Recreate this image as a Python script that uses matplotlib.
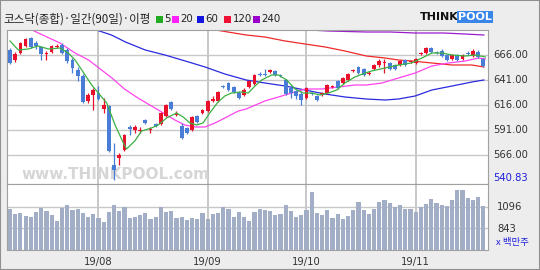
import matplotlib
matplotlib.use('Agg')
import matplotlib.pyplot as plt
from matplotlib.patches import Rectangle

plt.rcParams['font.family'] = ['Noto Sans CJK KR', 'DejaVu Sans']

# daily candles (index 0..91 = trading days Jul 8 .. Nov 20, 2019)
opens = [671, 661, 668, 675, 683, 678, 674, 667, 669, 674, 676, 671, 661, 651, 645, 620,
         626, 628, 612, 615, 556, 563, 571, 594, 591, 590, 601, 591, 597, 597, 605, 619,
         606, 595, 593, 591, 605, 608, 610, 620, 620, 635, 638, 634, 628, 626, 634, 637,
         647, 647, 649, 650, 646, 641, 633, 630, 627, 623, 628, 625, 626, 628, 634, 640,
         638, 641, 650, 654, 652, 647, 652, 656, 658, 658, 656, 656, 661, 659, 658, 667,
         668, 673, 669, 670, 666, 662, 666, 662, 668, 665, 669, 662]
closes = [658, 667, 678, 682, 674, 675, 667, 668, 675, 675, 668, 660, 653, 645, 619, 626,
          631, 622, 616, 570, 551, 566, 586, 592, 594, 591, 598, 592, 595, 608, 616, 612,
          608, 583, 588, 604, 599, 611, 620, 622, 629, 634, 631, 629, 623, 631, 640, 646,
          646, 646, 651, 646, 645, 627, 628, 625, 621, 633, 627, 621, 628, 636, 635, 633,
          643, 647, 651, 648, 646, 648, 656, 660, 659, 652, 652, 660, 656, 660, 662, 668,
          673, 669, 668, 665, 661, 666, 661, 666, 667, 670, 664, 655]
highs = [673, 669, 679, 683, 684, 680, 675, 670, 676, 677, 678, 673, 663, 654, 647, 628,
         633, 635, 623, 616, 578, 568, 587, 596, 596, 594, 602, 594, 598, 609, 617, 620,
         610, 598, 594, 605, 606, 612, 621, 625, 630, 636, 639, 635, 630, 633, 641, 647,
         649, 652, 652, 651, 647, 642, 636, 631, 630, 634, 629, 626, 629, 637, 636, 641,
         644, 648, 652, 655, 653, 650, 657, 662, 662, 659, 657, 661, 662, 661, 663, 669,
         674, 674, 670, 672, 667, 667, 667, 667, 670, 672, 671, 663]
lows = [657, 659, 667, 674, 673, 672, 661, 661, 668, 673, 667, 658, 648, 640, 618, 618,
        611, 621, 608, 569, 541, 556, 570, 586, 588, 588, 597, 588, 594, 596, 604, 611,
        605, 582, 587, 590, 598, 607, 609, 619, 619, 633, 630, 628, 622, 625, 633, 636,
        645, 645, 648, 645, 644, 626, 623, 622, 616, 622, 626, 620, 625, 627, 633, 632,
        637, 640, 649, 647, 645, 646, 651, 654, 648, 651, 651, 655, 655, 658, 657, 666,
        667, 668, 667, 664, 660, 661, 660, 661, 666, 664, 663, 654]

# volume (x 백만주)
volumes = [1069, 1006, 1018, 987, 975, 1038, 1076, 1045, 998, 932, 1076, 1119, 1057, 1065,
           1018, 975, 1006, 963, 913, 1038, 1112, 1045, 1096, 963, 975, 998, 1018, 952, 975,
           1092, 1034, 1045, 963, 975, 940, 963, 956, 1018, 952, 1006, 1018, 1092, 1069, 975,
           1038, 975, 924, 1037, 1065, 1057, 1045, 998, 1006, 1119, 1045, 979, 998, 1057,
           1272, 1018, 998, 1057, 967, 1010, 956, 987, 1057, 1151, 1057, 1010, 1069, 1147,
           1170, 1139, 1096, 1112, 1069, 1069, 1030, 1096, 1127, 1182, 1135, 1112, 1100,
           1170, 1291, 1291, 1194, 1170, 1213, 1104]

# moving averages (day index, value)
ma5_x = [0, 1.6, 3.5, 5.4, 7.4, 9.6, 11.2, 12.5, 13.8, 15.7, 17.3, 18.6, 20.2, 21.8, 22.4,
         24, 25.3, 27.2, 28.5, 30.1, 32, 33.3, 34.6, 35.9, 37.1, 38.4, 40, 41.3, 42.6, 44.5,
         45.8, 47.1, 48.4, 50.3, 51.6, 53.2, 54.8, 56.4, 58, 59.6, 61.2, 62.8, 64.4, 66.3,
         68.3, 69.5, 72.1, 74.7, 77.2, 79.2, 81.1, 83.1, 85, 87.5, 89.5, 91.4]
ma5_y = [680, 671, 672, 675, 672, 673, 668, 661, 651, 636, 626, 618, 596, 578, 572,
         580, 590, 593, 596, 603, 608, 604, 598, 596, 598, 608, 619, 625, 628, 629,
         628, 635, 641, 646, 646, 641, 632, 628, 628, 626, 628, 631, 638, 644,
         648, 650, 653, 656, 658, 663, 668, 668, 666, 665, 666, 664]
ma20_x = [3.8, 6.7, 9.6, 12.5, 15.1, 17.6, 19.6, 22.0, 24.6, 27.2, 29.8, 31.7, 33.6, 35.6,
          37.5, 39.4, 41.3, 43.9, 45.4, 49.0, 52.9, 56.7, 59.9, 63.1, 66.3, 68.5, 71.5,
          74.7, 77.9, 81.1, 84.3, 87.5, 90.1, 91.4]
ma20_y = [692, 685, 678, 668, 661, 651, 643, 632, 623, 615, 607, 601, 596, 594,
          594, 598, 603, 610, 612, 620, 626, 632, 632, 634, 636, 636, 638,
          643, 648, 655, 658, 660, 663, 662]
ma60_x = [16.6, 19.5, 22.2, 26, 29.8, 33.7, 37.5, 41.3, 45.4, 49, 52.9, 56.7, 60.6, 64.4,
          68.5, 72.1, 74.7, 77.9, 81.1, 85, 88.8, 91.1]
ma60_y = [691, 686, 679, 671, 666, 660, 654, 647, 641, 638, 635, 631, 627, 624,
          622, 621, 622, 625, 631, 635, 639, 641]
ma120_x = [38.4, 45.4, 49, 52.9, 56.7, 60.6, 64.4, 68.5, 72.1, 74.7, 77.2, 81.1, 85, 88.8, 91.1]
ma120_y = [692, 686, 684, 680, 677, 674, 670, 665, 663, 661, 660, 658, 656, 656, 654]
ma240_x = [53.8, 61.2, 68.5, 73.1, 77.9, 83.4, 87.5, 91.1]
ma240_y = [692, 690, 689, 689, 688, 688, 687, 686]

price_ticks = [666, 641, 616, 591, 566]
price_min_label = '540.83'
vol_ticks = [1096, 843]
month_idx = [17, 38, 57, 78]
month_labels = ['19/08', '19/09', '19/10', '19/11']

W, H = 540, 270
RED = '#E8102A'
BLUE = '#4A7ED6'
GRID = '#C8C8C8'


def fx(px):
    return px / W


def fy(py):
    return 1 - py / H


fig = plt.figure(figsize=(W / 100, H / 100), dpi=100)
fig.patch.set_facecolor('#EDEDED')

# --- price panel
ax = fig.add_axes([fx(7), fy(184), fx(481), (184 - 30) / H])
ax.set_facecolor('white')
ax.set_xlim(-0.58, 91.9)
ax.set_ylim(537, 691)
for p in price_ticks:
    ax.axhline(p, color=GRID, lw=1.0, zorder=0)
for m in month_idx:
    ax.axvline(m, color=GRID, lw=1.4, zorder=0)

ax.text(0.03, 0.035, 'www.THINKPOOL.com', transform=ax.transAxes, fontsize=11,
        fontweight='bold', color='#D6D6D6', family='DejaVu Sans', zorder=0.5)

ax.plot(ma240_x, ma240_y, color='#9A1ACC', lw=0.9, zorder=2)
ax.plot(ma120_x, ma120_y, color='#EE2A2A', lw=0.9, zorder=2)
ax.plot(ma60_x, ma60_y, color='#2A2ADD', lw=0.9, zorder=2)
ax.plot(ma20_x, ma20_y, color='#FF44EE', lw=0.9, zorder=2)

for i in range(len(opens)):
    o, c, h, l = opens[i], closes[i], highs[i], lows[i]
    col = RED if c >= o else BLUE
    ax.vlines(i, l, h, color=col, lw=0.9, zorder=3)
    lo, hi = min(o, c), max(o, c)
    ax.add_patch(Rectangle((i - 0.36, lo), 0.72, max(hi - lo, 1.0),
                           facecolor=col, edgecolor='none', zorder=4))

ax.plot(ma5_x, ma5_y, color='#3CB043', lw=0.9, zorder=5)

ax.set_xticks([])
ax.set_yticks([])
for s in ax.spines.values():
    s.set_color('#A0A0A0')
    s.set_linewidth(0.8)

# --- volume panel
vx = fig.add_axes([fx(7), fy(250), fx(481), (250 - 184) / H])
vx.set_facecolor('white')
vx.set_xlim(-0.58, 91.9)
vx.set_ylim(589, 1361)
for v in vol_ticks:
    vx.axhline(v, color=GRID, lw=1.0, zorder=0)
for m in month_idx:
    vx.axvline(m, color=GRID, lw=1.4, zorder=0)
vx.bar(range(len(volumes)), volumes, width=0.8, bottom=0, color='#A2ADC6', zorder=2)
vx.set_xticks([])
vx.set_yticks([])
for s in vx.spines.values():
    s.set_color('#A0A0A0')
    s.set_linewidth(0.8)

# right side labels
for p in price_ticks:
    fig.text(fx(493), fy(55 + (666 - p)), f'{p:.2f}', fontsize=7.2, color='#333333',
             va='center', ha='left', family='DejaVu Sans')
fig.text(fx(493), fy(178), price_min_label, fontsize=7.2, color='#2020DD',
         va='center', ha='left', family='DejaVu Sans')
for v, py in zip(vol_ticks, [207, 229]):
    fig.text(fx(497), fy(py), str(v), fontsize=7.2, color='#333333',
             va='center', ha='left', family='DejaVu Sans')
fig.text(fx(496), fy(243), 'x 백만주', fontsize=6.8, color='#2020DD', va='center', ha='left')

# month labels
for m, lab in zip(month_idx, month_labels):
    fig.text(fx(10 + 5.2 * m), fy(262), lab, fontsize=7.2, color='#333333',
             ha='center', va='center', family='DejaVu Sans')

# title and legend
fig.text(fx(3), fy(19.5), '코스닥(종합)·일간(90일)·이평', fontsize=8.3, color='#222222',
         va='center', ha='left')
legend = [('#22AA22', '5', 156), ('#FF22FF', '20', 172), ('#1515E0', '60', 197),
          ('#EE1133', '120', 224), ('#9A00CC', '240', 253)]
for col, lab, px in legend:
    fig.patches.append(Rectangle((fx(px), fy(23)), fx(7), 7 / H, transform=fig.transFigure,
                                 facecolor=col, edgecolor='none'))
    fig.text(fx(px + 8.5), fy(19.5), lab, fontsize=7.4, color='#222222', va='center',
             ha='left', family='DejaVu Sans')

# logo
fig.text(fx(420), fy(17), 'THINK', fontsize=8, fontweight='bold', color='#111111',
         va='center', ha='left', family='DejaVu Sans')
fig.text(fx(458), fy(17), 'POOL', fontsize=8, fontweight='bold', color='white',
         va='center', ha='left', family='DejaVu Sans',
         bbox=dict(boxstyle='square,pad=0.1', facecolor='#3A86E8', edgecolor='none'))

fig.patches.append(Rectangle((0, 0), 1, 1, transform=fig.transFigure, fill=False,
                             edgecolor='#909090', lw=1.5))

fig.savefig('out.png', dpi=100, facecolor=fig.get_facecolor())
